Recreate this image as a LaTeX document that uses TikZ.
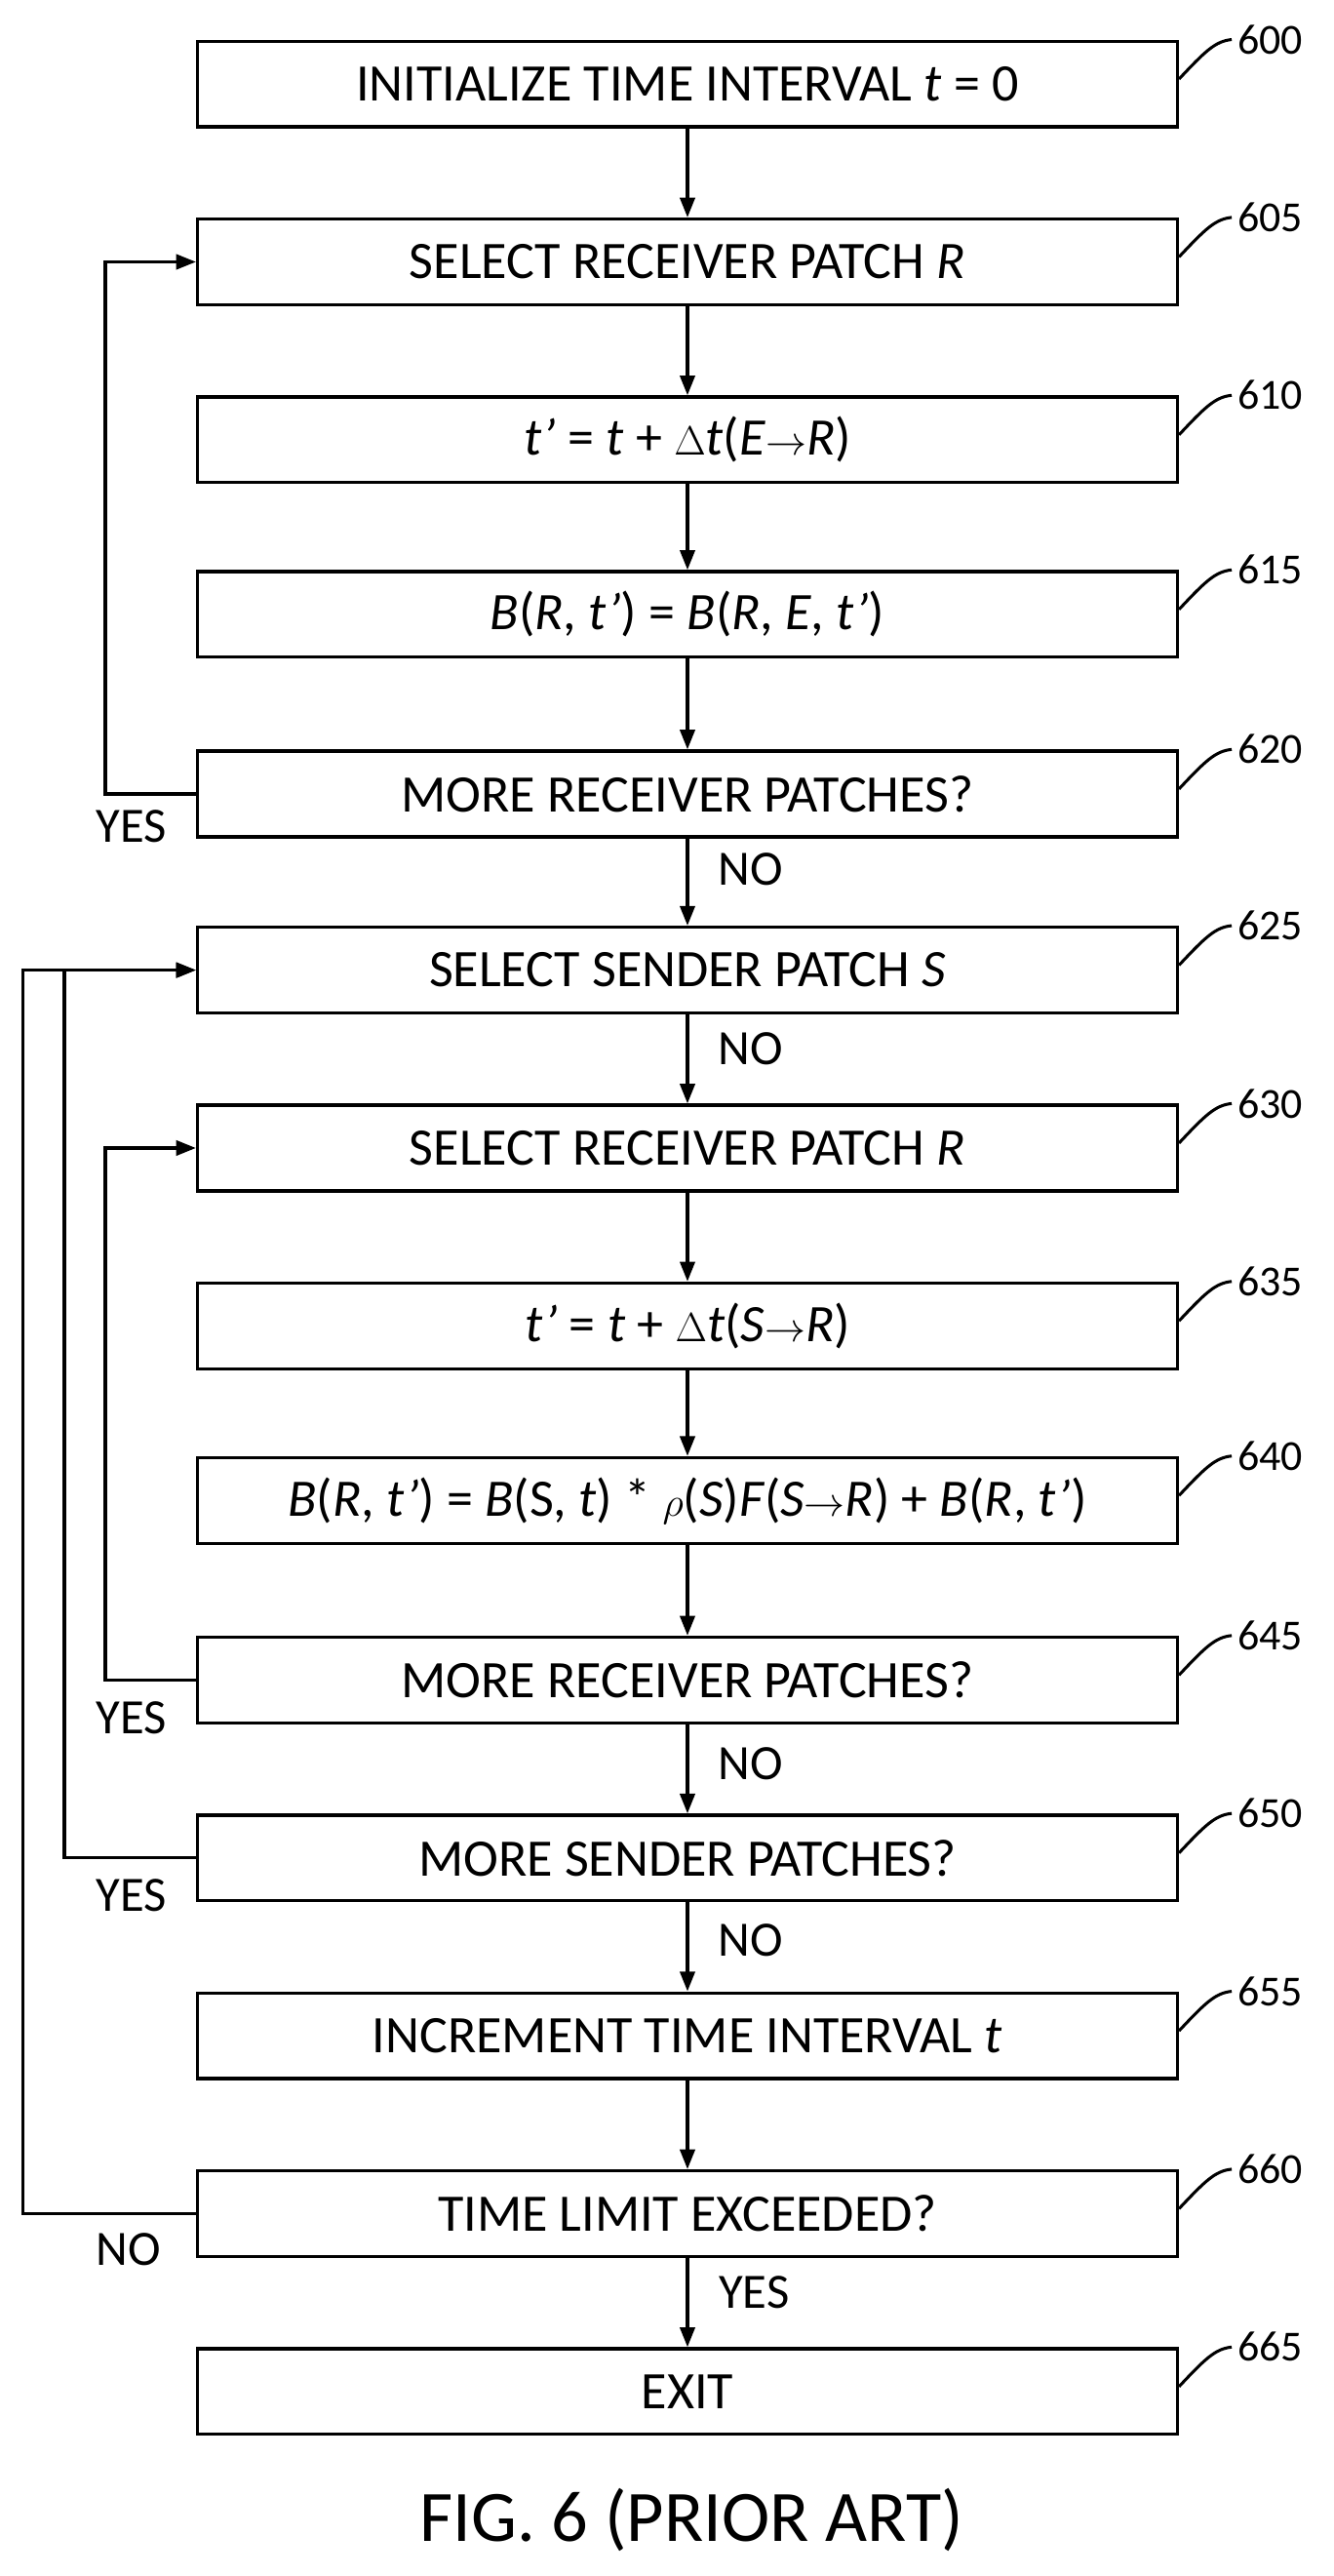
\documentclass[tikz,border=0pt]{standalone}
\usepackage{fontspec}
\setmainfont{Carlito}
\usetikzlibrary{arrows.meta}
\begin{document}
\begin{tikzpicture}[x=1pt,y=-1pt,
  box/.style={draw,line width=2pt,minimum width=595pt,minimum height=52pt,inner sep=0pt,font=\fontsize{32}{36}\selectfont},
  lab/.style={font=\fontsize{30}{34}\selectfont},
  ar/.style={line width=2pt,-{Triangle[length=12pt,width=9pt]}},
  ld/.style={line width=1.8pt}]
\useasboundingbox (0,0) rectangle (810,1564);
\def\rows{600/51/{INITIALIZE TIME INTERVAL \textit{t} = 0},605/159/{SELECT RECEIVER PATCH \textit{R}},610/267/{\textit{t’} = \textit{t} + $\Delta$\textit{t}(\textit{E}$\rightarrow$\textit{R})},615/373/{\textit{B}(\textit{R}, \textit{t’}) = \textit{B}(\textit{R}, \textit{E}, \textit{t’})},620/482/{MORE RECEIVER PATCHES?},625/589/{SELECT SENDER PATCH \textit{S}},630/697/{SELECT RECEIVER PATCH \textit{R}},635/805/{\textit{t’} = \textit{t} + $\Delta$\textit{t}(\textit{S}$\rightarrow$\textit{R})},640/911/{\textit{B}(\textit{R}, \textit{t’}) = \textit{B}(S, \textit{t}) * $\rho$(\textit{S})\textit{F}(\textit{S}$\rightarrow$\textit{R}) + \textit{B}(\textit{R}, \textit{t’})},645/1020/{MORE RECEIVER PATCHES?},650/1128/{MORE SENDER PATCHES?},655/1236/{INCREMENT TIME INTERVAL \textit{t}},660/1344/{TIME LIMIT EXCEEDED?},665/1452/{EXIT}}
\foreach \n/\y/\t in \rows {
  \node[box] (b\n) at (417.5,\y) {\t};
  \node[font=\fontsize{26}{30}\selectfont,anchor=west] (l\n) at (748,\y-27) {\n};
  \draw[ld] (b\n.north east) ++(0,24) coordinate (c\n) .. controls (732,\y-20) and (738,\y-26) .. (l\n.west);
}
\foreach \a/\b in {600/605,605/610,610/615,615/620,620/625,625/630,630/635,635/640,640/645,645/650,650/655,655/660,660/665}
  \draw[ar] (b\a.south) -- (b\b.north);
\draw[ar] (b620.west) -- ++(-55,0) |- (b605.west);
\draw[ar] (b645.west) -- ++(-55,0) |- (b630.west);
\draw[ar] (b650.west) -- ++(-80,0) |- (b625.west);
\draw[ar] (b660.west) -- ++(-105,0) |- (b625.west);
\node[lab] (y1) at (80,502) {YES};
\node[lab] (y2) at (80,1043) {YES};
\node[lab] (y3) at (80,1151) {YES};
\node[lab] (n4) at (78,1366) {NO};
\node[lab] (n1) at (456,528) {NO};
\node[lab] (n2) at (456,637) {NO};
\node[lab] (n3) at (456,1071) {NO};
\node[lab] (n5) at (456,1178) {NO};
\node[lab] (y4) at (458,1392) {YES};
\node[font=\fontsize{44}{48}\selectfont] (fig) at (420,1530) {FIG. 6 (PRIOR ART)};
\end{tikzpicture}
\end{document}
